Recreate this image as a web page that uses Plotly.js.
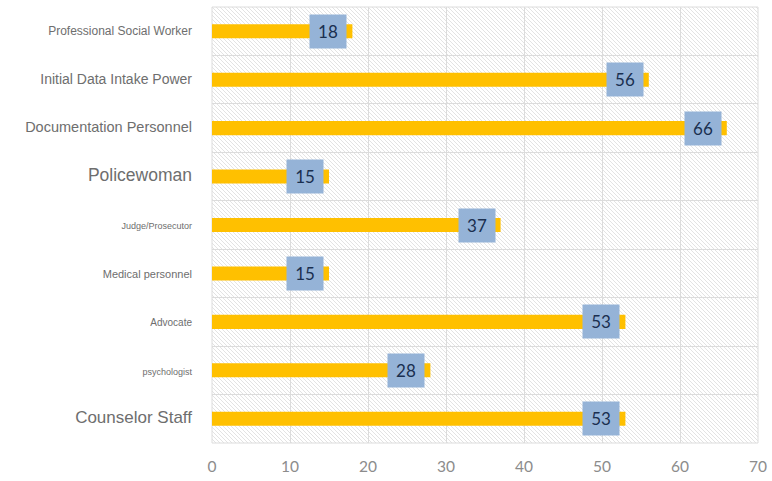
<!DOCTYPE html>
<html>
<head>
<meta charset="utf-8">
<script src="https://cdn.plot.ly/plotly-3.0.1.min.js"></script>
<style>html,body{margin:0;padding:0;background:#fff;}#chart{width:772px;height:481px;}</style>
</head>
<body>
<div id="chart"></div>
<script>
// Data
const categories = ["Professional Social Worker","Initial Data Intake Power","Documentation Personnel","Policewoman","Judge/Prosecutor","Medical personnel","Advocate","psychologist","Counselor Staff"];
const values = [18, 56, 66, 15, 37, 15, 53, 28, 53];
const labelSizes = [12, 14, 14.5, 17.5, 9, 11, 10, 9, 17];
const xTicks = [0, 10, 20, 30, 40, 50, 60, 70];

const W = 546, H = 436;
const svg = `<svg xmlns="http://www.w3.org/2000/svg" width="${W}" height="${H}" viewBox="0 0 ${W} ${H}" preserveAspectRatio="none">
<defs><pattern id="h" width="4" height="4" patternUnits="userSpaceOnUse">
<path d="M-1,-1 L5,5 M-1,3 L1,5 M3,-1 L5,1" stroke="#e0e0e0" stroke-width="0.9"/></pattern></defs>
<rect width="${W}" height="${H}" fill="#ffffff"/><rect width="${W}" height="${H}" fill="url(#h)"/></svg>`;
const hatchSrc = "data:image/svg+xml;charset=utf-8," + encodeURIComponent(svg);

const tickText = categories.map((c, i) => `<span style="font-size:${labelSizes[i]}px">${c}</span>`);

const trace = {
  type: "bar",
  orientation: "h",
  y: categories,
  x: values,
  width: 0.29,
  marker: {color: "#ffc000"},
  hoverinfo: "none"
};

const annotations = values.map((v, i) => ({
  x: v, y: categories[i], xref: "x", yref: "y",
  text: String(v), showarrow: false,
  xanchor: "right", yanchor: "middle", xshift: -5,
  width: 34, height: 31, align: "center", valign: "middle",
  bgcolor: "#95b3d7",
  font: {family: "Lato, 'Open Sans', sans-serif", size: 17, color: "#1a2f50"}
}));

const layout = {
  width: 772, height: 481,
  margin: {l: 212, r: 14, t: 7, b: 38},
  paper_bgcolor: "#ffffff",
  plot_bgcolor: "rgba(0,0,0,0)",
  showlegend: false,
  xaxis: {
    range: [0, 70], tickvals: xTicks, ticktext: xTicks.map(String),
    showgrid: true, gridcolor: "#dcdcdc", gridwidth: 1, zeroline: false,
    showline: false, ticks: "", ticklabelstandoff: 12,
    tickfont: {family: "Lato, 'Open Sans', sans-serif", size: 15.5, color: "#8c8c8c"},
    fixedrange: true
  },
  yaxis: {
    type: "category", autorange: "reversed",
    tickvals: categories, ticktext: tickText, tickson: "boundaries",
    showgrid: true, gridcolor: "#dcdcdc", gridwidth: 1, zeroline: false,
    showline: false, ticks: "", ticklabelstandoff: 19,
    tickfont: {family: "'Liberation Sans', Arial, sans-serif", size: 12, color: "#6e6e6e"},
    fixedrange: true
  },
  images: [{
    source: hatchSrc, xref: "paper", yref: "paper", x: 0, y: 1,
    sizex: 1, sizey: 1, sizing: "stretch", xanchor: "left", yanchor: "top",
    layer: "below"
  }],
  shapes: [{
    type: "rect", xref: "paper", yref: "paper", x0: 0, x1: 1, y0: 0, y1: 1,
    line: {color: "#dcdcdc", width: 1}, fillcolor: "rgba(0,0,0,0)", layer: "below"
  }],
  annotations: annotations
};

Plotly.newPlot("chart", [trace], layout, {displayModeBar: false, staticPlot: true});
</script>
</body>
</html>
